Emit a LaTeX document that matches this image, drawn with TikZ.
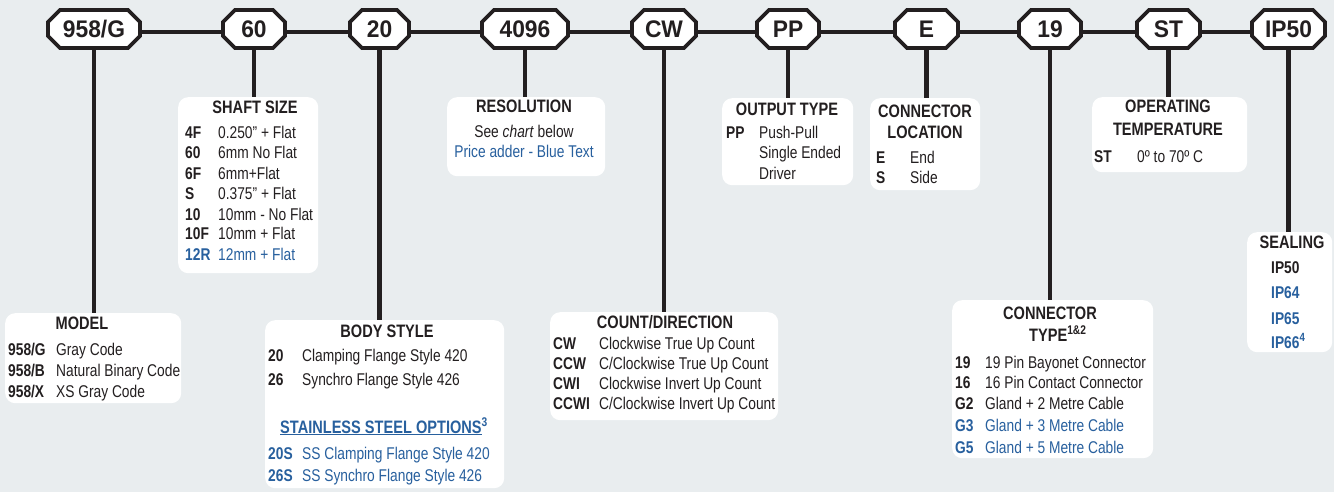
\documentclass[tikz,border=0pt]{standalone}
\usepackage{fontspec}
\setmainfont[FakeStretch=0.81]{Liberation Sans}
\newfontfamily\octfont[FakeStretch=0.95]{Liberation Sans}
\usetikzlibrary{calc}
\definecolor{bg}{RGB}{233,237,239}
\definecolor{ink}{RGB}{35,31,32}
\definecolor{blu}{RGB}{40,96,158}
\newcommand\bodyfont{\fontsize{17}{19}\selectfont}
\newcommand\headfont{\fontsize{18}{20}\selectfont}
\newcommand\octnode[4]{%
  \begin{scope}[shift={(#2)}]
    \draw[octline] (-#3+12,-19) -- (#3-12,-19) -- (#3,-7) -- (#3,7) -- (#3-12,19) -- (-#3+12,19) -- (-#3,7) -- (-#3,-7) -- cycle;
    \node[octlabel, minimum width=2*#3] (#1) at (0,0) {#4};
  \end{scope}}
\tikzset{
  octline/.style={draw=ink, line width=3.8pt, fill=white, line join=miter},
  octlabel/.style={inner sep=0pt, minimum height=38, text=ink, font=\octfont\fontsize{24}{26}\selectfont\bfseries},
  link/.style={draw=ink, line width=4pt},
  stem/.style={draw=ink, line width=4.5pt},
  box/.style={fill=white, draw=none, rounded corners=10pt, inner sep=0pt},
  hd/.style={inner sep=0pt, anchor=base, text=ink, font=\headfont\bfseries},
  ln/.style={inner sep=0pt, anchor=base, text=ink, font=\bodyfont},
  tx/.style={inner sep=0pt, anchor=base west, text=ink, font=\bodyfont},
  kb/.style={inner sep=0pt, anchor=base west, text=ink, font=\bodyfont\bfseries},
  btx/.style={tx, text=blu},
  bkb/.style={kb, text=blu},
}
\begin{document}
\begin{tikzpicture}[x=1pt, y=-1pt]
\useasboundingbox (0,0) rectangle (1334,492);
\fill[bg] (0,0) rectangle (1334,492);

% boxes
\node[box, anchor=north west, minimum width=176, minimum height=90] (model) at (5,313) {};
\node[box, anchor=north west, minimum width=140, minimum height=176] (shaft) at (178,97) {};
\node[box, anchor=north west, minimum width=239, minimum height=168] (body) at (265,320) {};
\node[box, anchor=north west, minimum width=158, minimum height=79] (res) at (447,97) {};
\node[box, anchor=north west, minimum width=228, minimum height=108] (count) at (550,312) {};
\node[box, anchor=north west, minimum width=131, minimum height=87] (out) at (722,98) {};
\node[box, anchor=north west, minimum width=110, minimum height=92] (loc) at (870,98) {};
\node[box, anchor=north west, minimum width=201, minimum height=158] (ctype) at (952,300) {};
\node[box, anchor=north west, minimum width=155, minimum height=75] (temp) at (1092,97) {};
\node[box, anchor=north west, minimum width=85, minimum height=120] (seal) at (1247,232) {};

% octagons
\octnode{n958}{94,29}{46}{958/G}
\octnode{n60}{254,29}{31}{60}
\octnode{n20}{379.5,29}{29.5}{20}
\octnode{n4096}{525,29}{43}{4096}
\octnode{ncw}{664,29}{32}{CW}
\octnode{npp}{788,29}{31}{PP}
\octnode{ne}{926.5,29}{31.5}{E}
\octnode{n19}{1050,29}{31}{19}
\octnode{nst}{1168.5,29}{31.5}{ST}
\octnode{nip}{1288.5,29}{36.5}{IP50}

% links
\draw[link] ([yshift=-3pt]n958.east) -- ([yshift=-3pt]n60.west);
\draw[link] ([yshift=-3pt]n60.east) -- ([yshift=-3pt]n20.west);
\draw[link] ([yshift=-3pt]n20.east) -- ([yshift=-3pt]n4096.west);
\draw[link] ([yshift=-3pt]n4096.east) -- ([yshift=-3pt]ncw.west);
\draw[link] ([yshift=-3pt]ncw.east) -- ([yshift=-3pt]npp.west);
\draw[link] ([yshift=-3pt]npp.east) -- ([yshift=-3pt]ne.west);
\draw[link] ([yshift=-3pt]ne.east) -- ([yshift=-3pt]n19.west);
\draw[link] ([yshift=-3pt]n19.east) -- ([yshift=-3pt]nst.west);
\draw[link] ([yshift=-3pt]nst.east) -- ([yshift=-3pt]nip.west);

% stems
\draw[stem] ([yshift=-2pt]n958.south) -- (n958.south |- model.north);
\draw[stem] ([yshift=-2pt]n60.south) -- (n60.south |- shaft.north);
\draw[stem] ([yshift=-2pt]n20.south) -- (n20.south |- body.north);
\draw[stem] ([yshift=-2pt]n4096.south) -- (n4096.south |- res.north);
\draw[stem] ([yshift=-2pt]ncw.south) -- (ncw.south |- count.north);
\draw[stem] ([yshift=-2pt]npp.south) -- (npp.south |- out.north);
\draw[stem] ([yshift=-2pt]ne.south) -- (ne.south |- loc.north);
\draw[stem] ([yshift=-2pt]n19.south) -- (n19.south |- ctype.north);
\draw[stem] ([yshift=-2pt]nst.south) -- (nst.south |- temp.north);
\draw[stem] ([yshift=-2pt]nip.south) -- (nip.south |- seal.north);

% MODEL
\node[hd] (mh) at (82,329) {MODEL};
\node[kb] (mk1) at (8,355) {958/G}; \node[tx] (md1) at (56,355) {Gray Code};
\node[kb] (mk2) at (8,376) {958/B}; \node[tx] (md2) at (56,376) {Natural Binary Code};
\node[kb] (mk3) at (8,397) {958/X}; \node[tx] (md3) at (56,397) {XS Gray Code};

% SHAFT SIZE
\node[hd] (sh) at (255,114) {SHAFT SIZE};
\node[kb] (sk1) at (185,139) {4F};  \node[tx] (sd1) at (218,139) {0.250" + Flat};
\node[kb] (sk2) at (185,159) {60};  \node[tx] (sd2) at (218,159) {6mm No Flat};
\node[kb] (sk3) at (185,179) {6F};  \node[tx] (sd3) at (218,179) {6mm+Flat};
\node[kb] (sk4) at (185,200) {S};   \node[tx] (sd4) at (218,200) {0.375" + Flat};
\node[kb] (sk5) at (185,220) {10};  \node[tx] (sd5) at (218,220) {10mm - No Flat};
\node[kb] (sk6) at (185,240) {10F}; \node[tx] (sd6) at (218,240) {10mm + Flat};
\node[bkb] (sk7) at (185,260) {12R}; \node[btx] (sd7) at (218,260) {12mm + Flat};

% BODY STYLE
\node[hd] (bh) at (387,337) {BODY STYLE};
\node[kb] (bk1) at (268,361) {20}; \node[tx] (bd1) at (302,361) {Clamping Flange Style 420};
\node[kb] (bk2) at (268,385) {26}; \node[tx] (bd2) at (302,385) {Synchro Flange Style 426};
\node[bkb, font=\headfont\bfseries] (bss) at (280,433) {\underline{STAINLESS STEEL OPTIONS}\textsuperscript{3}};
\node[bkb] (bk3) at (268,459) {20S}; \node[btx] (bd3) at (302,459) {SS Clamping Flange Style 420};
\node[bkb] (bk4) at (268,481) {26S}; \node[btx] (bd4) at (302,481) {SS Synchro Flange Style 426};

% RESOLUTION
\node[hd] (rh) at (524,113) {RESOLUTION};
\node[ln] (r1) at (524,138) {See \textit{chart} below};
\node[ln, text=blu] (r2) at (524,158) {Price adder - Blue Text};

% COUNT/DIRECTION
\node[hd] (ch) at (665,328) {COUNT/DIRECTION};
\node[kb] (ck1) at (553,349) {CW};   \node[tx] (cd1) at (599,349) {Clockwise True Up Count};
\node[kb] (ck2) at (553,369) {CCW};  \node[tx] (cd2) at (599,369) {C/Clockwise True Up Count};
\node[kb] (ck3) at (553,389) {CWI};  \node[tx] (cd3) at (599,389) {Clockwise Invert Up Count};
\node[kb] (ck4) at (553,409) {CCWI}; \node[tx] (cd4) at (599,409) {C/Clockwise Invert Up Count};

% OUTPUT TYPE
\node[hd] (oh) at (787,116) {OUTPUT TYPE};
\node[kb] (ok1) at (726,139) {PP};
\node[tx] (od1) at (759,139) {Push-Pull};
\node[tx] (od2) at (759,159) {Single Ended};
\node[tx] (od3) at (759,179) {Driver};

% CONNECTOR LOCATION
\node[hd] (lh1) at (925,118) {CONNECTOR};
\node[hd] (lh2) at (925,139) {LOCATION};
\node[kb] (lk1) at (876,164) {E}; \node[tx] (ld1) at (910,164) {End};
\node[kb] (lk2) at (876,184) {S}; \node[tx] (ld2) at (910,184) {Side};

% CONNECTOR TYPE
\node[hd] (th1) at (1050,319) {CONNECTOR};
\node[kb, font=\headfont\bfseries] (th2) at (1029,341) {TYPE\textsuperscript{1\&2}};
\node[kb] (tk1) at (955,368) {19}; \node[tx] (td1) at (985,368) {19 Pin Bayonet Connector};
\node[kb] (tk2) at (955,388) {16}; \node[tx] (td2) at (985,388) {16 Pin Contact Connector};
\node[kb] (tk3) at (955,409) {G2}; \node[tx] (td3) at (985,409) {Gland + 2 Metre Cable};
\node[bkb] (tk4) at (955,431) {G3}; \node[btx] (td4) at (985,431) {Gland + 3 Metre Cable};
\node[bkb] (tk5) at (955,453) {G5}; \node[btx] (td5) at (985,453) {Gland + 5 Metre Cable};

% OPERATING TEMPERATURE
\node[hd] (ph1) at (1168,113) {OPERATING};
\node[hd] (ph2) at (1168,136) {TEMPERATURE};
\node[kb] (pk1) at (1094,163) {ST}; \node[tx] (pd1) at (1137,163) {0º to 70º C};

% SEALING
\node[hd] (eh) at (1292,248) {SEALING};
\node[kb] (e1) at (1271,273) {IP50};
\node[bkb] (e2) at (1271,298) {IP64};
\node[bkb] (e3) at (1271,324) {IP65};
\node[bkb] (e4) at (1271,348) {IP66\textsuperscript{4}};
\end{tikzpicture}
\end{document}
